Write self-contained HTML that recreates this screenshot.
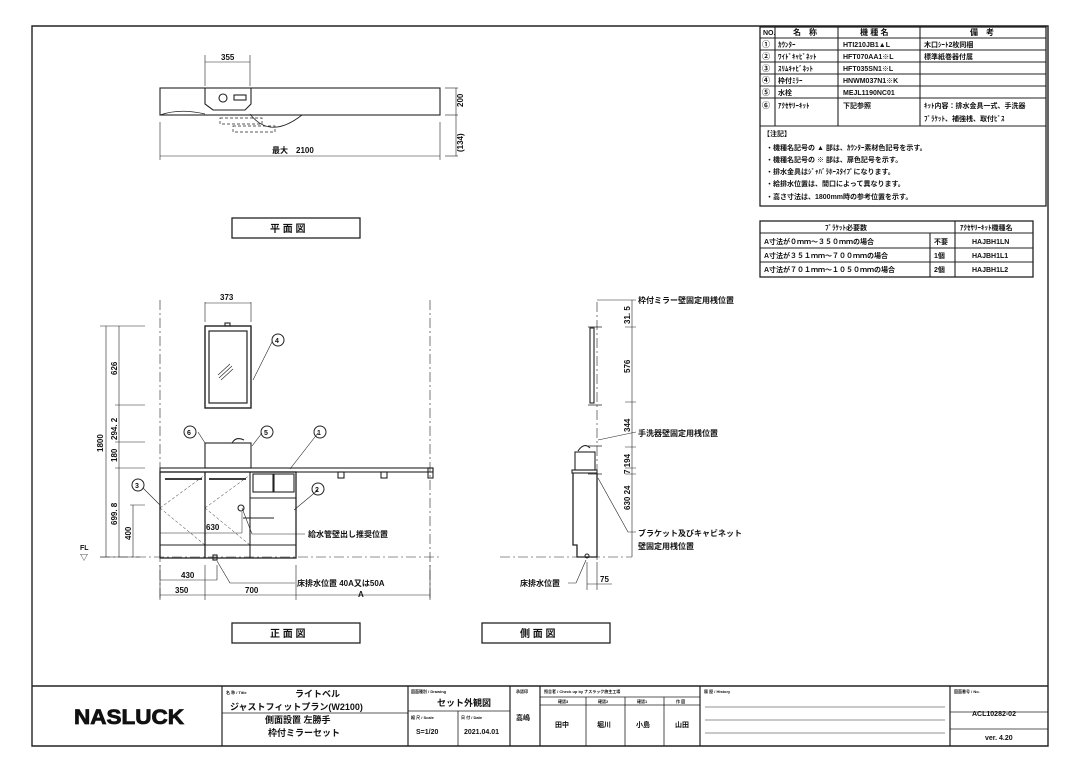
<!DOCTYPE html>
<html><head><meta charset="utf-8"><style>
html,body{margin:0;padding:0;background:#fff;}
svg{display:block;font-family:"Liberation Sans","Noto Sans CJK JP",sans-serif;}
text{fill:#111;font-weight:bold;}
</style></head><body>
<svg width="1080" height="764" viewBox="0 0 1080 764" xmlns="http://www.w3.org/2000/svg">
<g fill="none" stroke="#222" stroke-width="1.1">
<path d="M32 26 H1048 V746 H32 Z" stroke-width="1.4"/>
<line x1="32" y1="686" x2="1048" y2="686" stroke-width="1.4"/>

<rect x="760" y="27" width="286" height="179" stroke-width="1.3"/>
<line x1="760" y1="38" x2="1046" y2="38"/>
<line x1="760" y1="50" x2="1046" y2="50"/>
<line x1="760" y1="62" x2="1046" y2="62"/>
<line x1="760" y1="74" x2="1046" y2="74"/>
<line x1="760" y1="86" x2="1046" y2="86"/>
<line x1="760" y1="98" x2="1046" y2="98"/>
<line x1="760" y1="126" x2="1046" y2="126"/>
<line x1="775" y1="27" x2="775" y2="126"/>
<line x1="838" y1="27" x2="838" y2="126"/>
<line x1="920" y1="27" x2="920" y2="126"/>
<rect x="760" y="221" width="273" height="56" stroke-width="1.3"/>
<line x1="760" y1="233" x2="1033" y2="233"/>
<line x1="760" y1="248" x2="1033" y2="248"/>
<line x1="760" y1="262" x2="1033" y2="262"/>
<line x1="955" y1="221" x2="955" y2="277"/>
<line x1="930" y1="233" x2="930" y2="277"/>

<rect x="160" y="88" width="280" height="27"/>
<path d="M205 88 H251 V104 L245 110 H213 L205 104 Z"/>
<circle cx="223" cy="98" r="4"/>
<rect x="234" y="95" width="12" height="5"/>
<path d="M160 115 Q180 108 205 114 M250 114 Q270 140 302 115" stroke-width="0.8"/>
<path d="M220 118 H262 V124 H220 Z M233 126 H275 V132 H233 Z" stroke-dasharray="3 2" stroke-width="0.7"/>
<line x1="205" y1="55" x2="205" y2="86" stroke-width="0.6"/>
<line x1="250" y1="55" x2="250" y2="86" stroke-width="0.6"/>
<line x1="205" y1="62" x2="250" y2="62" stroke-width="0.6"/>
<line x1="160" y1="122" x2="160" y2="160" stroke-width="0.6"/>
<line x1="440" y1="122" x2="440" y2="160" stroke-width="0.6"/>
<line x1="160" y1="156" x2="440" y2="156" stroke-width="0.6"/>
<line x1="445" y1="88" x2="458" y2="88" stroke-width="0.6"/>
<line x1="445" y1="115" x2="458" y2="115" stroke-width="0.6"/>
<line x1="445" y1="156" x2="458" y2="156" stroke-width="0.6"/>
<line x1="456" y1="88" x2="456" y2="156" stroke-width="0.6"/>
<rect x="232" y="218" width="128" height="20" stroke-width="1.3"/>

<line x1="160" y1="300" x2="160" y2="600" stroke-dasharray="10 3 2 3" stroke-width="0.6"/>
<line x1="430" y1="300" x2="430" y2="600" stroke-dasharray="10 3 2 3" stroke-width="0.6"/>
<line x1="100" y1="557" x2="440" y2="557" stroke-dasharray="10 3 2 3" stroke-width="0.6"/>
<rect x="205" y="326" width="46" height="82" stroke-width="1.4"/>
<rect x="209" y="331" width="38" height="72" stroke-width="1.2"/>
<rect x="225" y="323" width="5" height="3"/>
<path d="M218 375 L230 364 M219 378 L232 366 M221 380 L233 369" stroke-width="0.6"/>
<line x1="205" y1="302" x2="205" y2="322" stroke-width="0.6"/>
<line x1="251" y1="302" x2="251" y2="322" stroke-width="0.6"/>
<line x1="205" y1="303" x2="251" y2="303" stroke-width="0.6"/>
<rect x="205" y="443" width="46" height="25"/>
<path d="M232 443 Q236 436 244 440" stroke-width="1"/>
<rect x="160" y="468" width="273" height="4"/>
<rect x="160" y="472" width="136" height="86" stroke-width="1.3"/>
<line x1="205" y1="472" x2="205" y2="558" stroke-width="1.3"/>
<line x1="250" y1="472" x2="250" y2="558"/>
<line x1="160" y1="545" x2="296" y2="545"/>
<line x1="165" y1="479" x2="202" y2="479" stroke-width="1.8"/>
<line x1="209" y1="479" x2="246" y2="479" stroke-width="1.8"/>
<rect x="253" y="474" width="20" height="18"/>
<rect x="274" y="474" width="20" height="18"/>
<line x1="250" y1="498" x2="296" y2="498"/>
<path d="M160 508 L205 475 M160 508 L205 545 M205 508 L250 475 M205 508 L250 545" stroke-width="0.5" stroke-dasharray="3 2"/>
<rect x="338" y="472" width="6" height="6"/>
<rect x="381" y="472" width="6" height="6"/>
<rect x="428" y="468" width="5" height="10"/>
<circle cx="241" cy="508" r="3"/>
<line x1="243" y1="518" x2="274" y2="518"/>
<line x1="160" y1="533" x2="242" y2="533" stroke-width="0.5"/>
<line x1="242" y1="512" x2="242" y2="533" stroke-width="0.5"/>
<rect x="213" y="555" width="4" height="5"/>
<path d="M198 432 L205 443 M262 433 L252 446 M318 433 L290 469 M318 490 L294 510 M143 488 L160 505 M272 342 L253 380" stroke-width="0.6"/>
<path d="M242 508 L252 534 H305" stroke-width="0.6"/>
<path d="M217 561 L230 583 H295" stroke-width="0.6"/>
<g stroke-width="1"><circle cx="278" cy="340" r="6"/><circle cx="190" cy="432" r="6"/><circle cx="267" cy="432" r="6"/><circle cx="320" cy="432" r="6"/><circle cx="318" cy="489" r="6"/><circle cx="138" cy="485" r="6"/></g>
<path d="M100 326 H145 M115 405 H145 M115 442 H145 M115 468 H145 M130 505 H145 M100 557 H140" stroke-width="0.6"/>
<path d="M106 326 V557 M119 326 V557 M133 505 V557" stroke-width="0.6"/>
<path d="M160 565 V600 M205 565 V600 M217 565 V580 M296 565 V600 M430 565 V600" stroke-width="0.6"/>
<path d="M160 580 H217 M160 595 H430" stroke-width="0.6"/>
<rect x="232" y="623" width="128" height="20" stroke-width="1.3"/>
<rect x="482" y="623" width="128" height="20" stroke-width="1.3"/>

<line x1="597" y1="302" x2="597" y2="560" stroke-dasharray="10 3 2 3" stroke-width="0.6"/>
<line x1="500" y1="557" x2="632" y2="557" stroke-dasharray="10 3 2 3" stroke-width="0.6"/>
<rect x="590" y="328" width="4" height="75"/>
<path d="M588 327 H602 M588 405 H602 M588 446 H602 M588 474 H602" stroke-width="0.8"/>
<rect x="575" y="452" width="20" height="18"/>
<path d="M578 451 Q584 442 590 448" />
<rect x="572" y="470" width="25" height="3"/>
<path d="M573 473 V545 H577 V557 H597 V473" stroke-width="1.3"/>
<circle cx="587" cy="556" r="2"/>
<path d="M632 300 V557 M625 327 H636 M625 402 H636 M625 447 H636 M625 468 H636 M625 474 H636" stroke-width="0.6"/>
<path d="M597 300 L636 300 M598 440 L636 432 M598 478 L628 532 H636 M586 560 L576 583 H568" stroke-width="0.6"/>
<path d="M587 562 V590 M597 562 V590 M587 584 H612" stroke-width="0.6"/>

<path d="M222 686 V746 M408 686 V746 M510 686 V746 M540 686 V746 M700 686 V746 M950 686 V746" stroke-width="1.2"/>
<path d="M222 713 H408 M408 711 H510 M540 697 H700 M458 711 V746 M586 697 V746 M625 697 V746 M664 697 V746 M540 705 H700 M950 712 H1048 M950 729 H1048" stroke-width="0.8"/>
<path d="M705 707 H945 M705 720 H945 M705 733 H945" stroke-width="0.6"/>
</g>

<g font-size="8">
<text x="763" y="35" font-size="7">NO.</text>
<text x="793" y="35">名　称</text>
<text x="860" y="35">機 種 名</text>
<text x="970" y="35">備　考</text>
<text x="762" y="47">①</text><text x="778" y="47" font-size="7">ｶｳﾝﾀｰ</text><text x="843" y="47" font-size="7">HTI210JB1▲L</text><text x="924" y="47" font-size="7">木口ｼｰﾄ2枚同梱</text>
<text x="762" y="59">②</text><text x="778" y="59" font-size="7">ﾜｲﾄﾞｷｬﾋﾞﾈｯﾄ</text><text x="843" y="59" font-size="7">HFT070AA1※L</text><text x="924" y="59" font-size="7">標準紙巻器付属</text>
<text x="762" y="71">③</text><text x="778" y="71" font-size="7">ｽﾘﾑｷｬﾋﾞﾈｯﾄ</text><text x="843" y="71" font-size="7">HFT035SN1※L</text>
<text x="762" y="83">④</text><text x="778" y="83" font-size="7">枠付ﾐﾗｰ</text><text x="843" y="83" font-size="7">HNWM037N1※K</text>
<text x="762" y="95">⑤</text><text x="778" y="95" font-size="7">水栓</text><text x="843" y="95" font-size="7">MEJL1190NC01</text>
<text x="762" y="108">⑥</text><text x="778" y="108" font-size="7">ｱｸｾｻﾘｰｷｯﾄ</text><text x="843" y="108" font-size="7">下記参照</text><text x="924" y="108" font-size="7">ｷｯﾄ内容：排水金具一式、手洗器</text>
<text x="924" y="121" font-size="7">ﾌﾞﾗｹｯﾄ、補強桟、取付ﾋﾞｽ</text>
<text x="763" y="136" font-size="7">【注記】</text>
<text x="766" y="150" font-size="7">・機種名記号の ▲ 部は、ｶｳﾝﾀｰ素材色記号を示す。</text>
<text x="766" y="162" font-size="7">・機種名記号の ※ 部は、扉色記号を示す。</text>
<text x="766" y="174" font-size="7">・排水金具はｼﾞｬﾊﾞﾗﾎｰｽﾀｲﾌﾟになります。</text>
<text x="766" y="186" font-size="7">・給排水位置は、間口によって異なります。</text>
<text x="766" y="199" font-size="7">・高さ寸法は、1800mm時の参考位置を示す。</text>
<text x="825" y="230" font-size="7">ﾌﾞﾗｹｯﾄ必要数</text>
<text x="960" y="230" font-size="7">ｱｸｾｻﾘｰｷｯﾄ機種名</text>
<text x="764" y="244" font-size="7">A寸法が０ｍｍ～３５０ｍｍの場合</text><text x="934" y="244" font-size="7">不要</text><text x="972" y="244" font-size="7">HAJBH1LN</text>
<text x="764" y="258" font-size="7">A寸法が３５１ｍｍ～７００ｍｍの場合</text><text x="934" y="258" font-size="7">1個</text><text x="972" y="258" font-size="7">HAJBH1L1</text>
<text x="764" y="272" font-size="7">A寸法が７０１ｍｍ～１０５０ｍｍの場合</text><text x="934" y="272" font-size="7">2個</text><text x="972" y="272" font-size="7">HAJBH1L2</text>

<text x="221" y="60">355</text>
<text x="272" y="153">最大　2100</text>
<text x="0" y="0" transform="translate(463,107) rotate(-90)">200</text>
<text x="0" y="0" transform="translate(463,152) rotate(-90)">(134)</text>
<text x="270" y="232" font-size="10">平 面 図</text>

<text x="220" y="300">373</text>
<text x="275" y="343" font-size="7">4</text><text x="187" y="435" font-size="7">6</text><text x="264" y="435" font-size="7">5</text><text x="317" y="435" font-size="7">1</text><text x="315" y="492" font-size="7">2</text><text x="135" y="488" font-size="7">3</text>
<text transform="translate(103,452) rotate(-90)">1800</text>
<text transform="translate(117,375) rotate(-90)">626</text>
<text transform="translate(117,440) rotate(-90)">294. 2</text>
<text transform="translate(117,462) rotate(-90)">180</text>
<text transform="translate(117,525) rotate(-90)">699. 8</text>
<text transform="translate(131,540) rotate(-90)">400</text>
<text x="206" y="530">630</text>
<text x="308" y="537">給水管壁出し推奨位置</text>
<text x="80" y="550" font-size="7">FL</text><text x="80" y="560" font-size="8">▽</text>
<text x="181" y="578">430</text>
<text x="175" y="593">350</text>
<text x="245" y="593">700</text>
<text x="297" y="586">床排水位置 40A又は50A</text>
<text x="358" y="597">A</text>
<text x="270" y="637" font-size="10">正 面 図</text>
<text x="520" y="637" font-size="10">側 面 図</text>

<text x="638" y="303">枠付ミラー壁固定用桟位置</text>
<text transform="translate(630,324) rotate(-90)">31. 5</text>
<text transform="translate(630,373) rotate(-90)">576</text>
<text transform="translate(630,432) rotate(-90)">344</text>
<text x="638" y="436">手洗器壁固定用桟位置</text>
<text transform="translate(630,474) rotate(-90)">7 194</text>
<text transform="translate(630,510) rotate(-90)">630 24</text>
<text x="638" y="536">ブラケット及びキャビネット</text>
<text x="638" y="549">壁固定用桟位置</text>
<text x="520" y="586">床排水位置</text>
<text x="600" y="582">75</text>

<text x="74" y="724" font-size="21" style="fill:#111;stroke:#111;stroke-width:0.8" textLength="110" lengthAdjust="spacingAndGlyphs">NASLUCK</text>
<text x="226" y="694" font-size="4">名 称 / Title</text>
<text x="295" y="697" font-size="9">ライトベル</text>
<text x="230" y="710" font-size="9">ジャストフィットプラン(W2100)</text>
<text x="265" y="723" font-size="9">側面設置  左勝手</text>
<text x="268" y="736" font-size="9">枠付ミラーセット</text>
<text x="411" y="693" font-size="4">図面種別 / Drawing</text>
<text x="437" y="706" font-size="9">セット外観図</text>
<text x="411" y="719" font-size="4">縮 尺 / Scale</text>
<text x="461" y="719" font-size="4">日 付 / Date</text>
<text x="416" y="734" font-size="7">S=1/20</text>
<text x="464" y="734" font-size="7">2021.04.01</text>
<text x="516" y="693" font-size="4">承認印</text>
<text x="516" y="720" font-size="7">高嶋</text>
<text x="544" y="693" font-size="4">照合者 / Check up by ナスラック施主工場</text>
<text x="558" y="703" font-size="4">確認3</text><text x="598" y="703" font-size="4">確認2</text><text x="637" y="703" font-size="4">確認1</text><text x="676" y="703" font-size="4">作 図</text>
<text x="555" y="727" font-size="7">田中</text><text x="597" y="727" font-size="7">堀川</text><text x="636" y="727" font-size="7">小島</text><text x="675" y="727" font-size="7">山田</text>
<text x="704" y="693" font-size="4">履 歴 / History</text>
<text x="954" y="693" font-size="4">図面番号 / No.</text>
<text x="972" y="716" font-size="7">ACL10282-02</text>
<text x="985" y="740" font-size="7">ver. 4.20</text>
</g>
</svg>
</body></html>
